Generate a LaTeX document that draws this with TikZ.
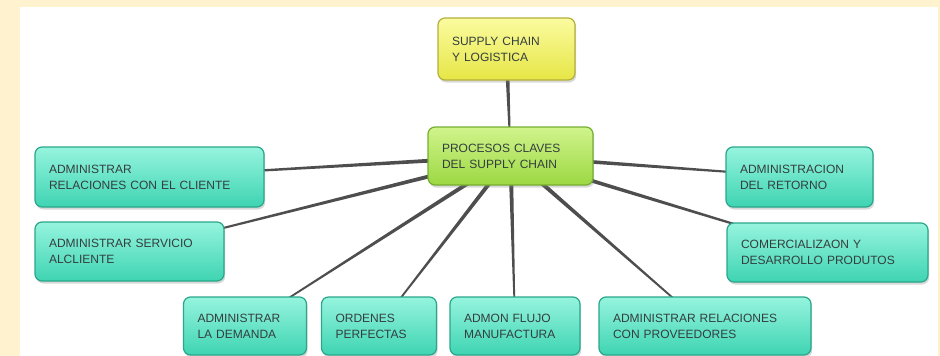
\documentclass[tikz,border=0pt]{standalone}
\usepackage{fontspec}
\setmainfont{Liberation Sans}
\usetikzlibrary{calc,shadows}
\definecolor{cream}{RGB}{255,242,206}
\definecolor{txt}{RGB}{52,62,62}
\definecolor{linec}{RGB}{78,78,78}
\definecolor{tealtop}{RGB}{150,244,222}
\definecolor{tealmid}{RGB}{84,228,196}
\definecolor{tealbot}{RGB}{62,212,178}
\definecolor{tealbd}{RGB}{42,166,138}
\definecolor{yeltop}{RGB}{251,251,160}
\definecolor{yelmid}{RGB}{243,243,95}
\definecolor{yelbot}{RGB}{230,230,70}
\definecolor{yelbd}{RGB}{180,176,60}
\definecolor{grntop}{RGB}{208,244,140}
\definecolor{grnmid}{RGB}{172,228,80}
\definecolor{grnbot}{RGB}{156,216,66}
\definecolor{grnbd}{RGB}{118,174,50}
\pgfdeclarelayer{back}
\pgfdeclarelayer{lines}
\pgfsetlayers{back,lines,main}
\tikzset{
  box/.style={rounded corners=7pt, line width=1.2pt, inner xsep=14pt, inner ysep=0pt,
    align=left, text=txt, font=\fontsize{12pt}{16pt}\selectfont,
    drop shadow={opacity=0.3, shadow xshift=1.2pt, shadow yshift=-2.5pt}},
  tealbox/.style={box, draw=tealbd, top color=tealtop, middle color=tealmid, bottom color=tealbot},
  yelbox/.style={box, draw=yelbd, top color=yeltop, middle color=yelmid, bottom color=yelbot},
  grnbox/.style={box, draw=grnbd, top color=grntop, middle color=grnmid, bottom color=grnbot},
  sz/.style 2 args={text width=#1pt-28pt, minimum height=#2pt}
}
\newcommand\taper[2]{\fill[linec] ($(#1)!2.3pt!90:(#2)$) -- ($(#2)!0.6pt!-90:(#1)$) -- ($(#2)!0.6pt!90:(#1)$) -- ($(#1)!2.3pt!-90:(#2)$) -- cycle;}
\begin{document}
\begin{tikzpicture}[x=1pt,y=-1pt]
\useasboundingbox (0,0) rectangle (940,356);
\begin{pgfonlayer}{back}
\fill[cream] (0,0) rectangle (940,356);
\fill[white] (20,7) rectangle (938,357);
\end{pgfonlayer}
\node[yelbox, sz={137}{62}] (sup) at (506.5,49) {SUPPLY CHAIN\\Y LOGISTICA};
\node[grnbox, sz={165}{58}] (proc) at (510.5,156) {PROCESOS CLAVES\\DEL SUPPLY CHAIN};
\node[tealbox, sz={229}{60}] (rc) at (149.5,177) {ADMINISTRAR\\RELACIONES CON EL CLIENTE};
\node[tealbox, sz={189}{59}] (sc) at (129.5,251.5) {ADMINISTRAR SERVICIO\\ALCLIENTE};
\node[tealbox, sz={123}{58}] (dem) at (245,326) {ADMINISTRAR\\LA DEMANDA};
\node[tealbox, sz={115}{58}] (ord) at (379,326) {ORDENES\\PERFECTAS};
\node[tealbox, sz={130}{58}] (adm) at (515,326) {ADMON FLUJO\\MANUFACTURA};
\node[tealbox, sz={212}{58}] (prov) at (705,326) {ADMINISTRAR RELACIONES\\CON PROVEEDORES};
\node[tealbox, sz={201}{59}] (com) at (827.5,252.5) {COMERCIALIZAON Y\\DESARROLLO PRODUTOS};
\node[tealbox, sz={147}{60}] (ret) at (799.5,177) {ADMINISTRACION\\DEL RETORNO};
\begin{pgfonlayer}{lines}
\taper{sup}{proc}
\taper{proc}{rc}
\taper{proc}{sc}
\taper{proc}{dem}
\taper{proc}{ord}
\taper{proc}{adm}
\taper{proc}{prov}
\taper{proc}{com}
\taper{proc}{ret}
\end{pgfonlayer}
\end{tikzpicture}
\end{document}
